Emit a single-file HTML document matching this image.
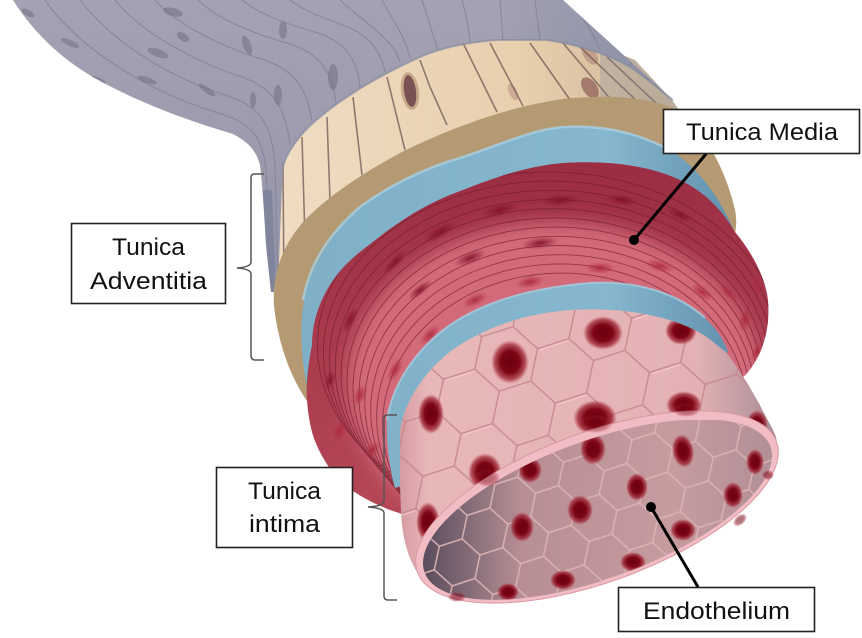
<!DOCTYPE html>
<html><head><meta charset="utf-8">
<style>
html,body{margin:0;padding:0;background:#fff;}
svg{display:block;}
text{font-family:"Liberation Sans",Arial,sans-serif;fill:#111;font-size:24px;}
</style></head><body>
<svg width="862" height="638" viewBox="0 0 862 638" xmlns="http://www.w3.org/2000/svg">
<defs>
  <linearGradient id="gGray" gradientUnits="userSpaceOnUse" x1="0" y1="0" x2="0" y2="290">
    <stop offset="0" stop-color="#a3a1b2"/>
    <stop offset="0.5" stop-color="#9d9bad"/>
    <stop offset="1" stop-color="#9394a9"/>
  </linearGradient>
  <linearGradient id="gGrayR" gradientUnits="userSpaceOnUse" x1="500" y1="0" x2="675" y2="0">
    <stop offset="0" stop-color="#6f7c98" stop-opacity="0"/>
    <stop offset="1" stop-color="#6f7c98" stop-opacity="0.45"/>
  </linearGradient>
  <linearGradient id="gTan" gradientUnits="userSpaceOnUse" x1="280" y1="0" x2="680" y2="0">
    <stop offset="0" stop-color="#efdcc2"/>
    <stop offset="0.6" stop-color="#e8cfae"/>
    <stop offset="1" stop-color="#cdb496"/>
  </linearGradient>
  <linearGradient id="gBlue" gradientUnits="userSpaceOnUse" x1="300" y1="0" x2="740" y2="0">
    <stop offset="0" stop-color="#7fb0c8"/>
    <stop offset="0.7" stop-color="#86b7ce"/>
    <stop offset="1" stop-color="#5f8fac"/>
  </linearGradient>
  <linearGradient id="gRed" gradientUnits="userSpaceOnUse" x1="0" y1="170" x2="0" y2="500">
    <stop offset="0" stop-color="#9c2e43"/>
    <stop offset="1" stop-color="#b54656"/>
  </linearGradient>
  <linearGradient id="gEndo" gradientUnits="userSpaceOnUse" x1="398" y1="0" x2="780" y2="0">
    <stop offset="0" stop-color="#d49aa0"/>
    <stop offset="0.08" stop-color="#e8b8b9"/>
    <stop offset="0.78" stop-color="#e4b2b4"/>
    <stop offset="1" stop-color="#a68c96"/>
  </linearGradient>
  <linearGradient id="gIn" gradientUnits="userSpaceOnUse" x1="420" y1="0" x2="780" y2="0">
    <stop offset="0" stop-color="#574a5c"/>
    <stop offset="0.12" stop-color="#7e6874"/>
    <stop offset="0.28" stop-color="#b78e94"/>
    <stop offset="0.7" stop-color="#c69c9f"/>
    <stop offset="1" stop-color="#b08e96"/>
  </linearGradient>
  <radialGradient id="nuc">
    <stop offset="0" stop-color="#6a000e"/>
    <stop offset="0.5" stop-color="#7d0516"/>
    <stop offset="0.8" stop-color="#9a1e2e" stop-opacity="0.7"/>
    <stop offset="1" stop-color="#b84050" stop-opacity="0"/>
  </radialGradient>
  <radialGradient id="rn">
    <stop offset="0" stop-color="#841228" stop-opacity="0.95"/>
    <stop offset="1" stop-color="#841228" stop-opacity="0"/>
  </radialGradient>
  <radialGradient id="rn2">
    <stop offset="0" stop-color="#ad2a42" stop-opacity="0.95"/>
    <stop offset="1" stop-color="#ad2a42" stop-opacity="0"/>
  </radialGradient>
  <pattern id="hexO" patternUnits="userSpaceOnUse" width="99" height="57.2" patternTransform="translate(410,330) rotate(-18)">
    <path d="M16.5,0 L49.5,0 L66,28.6 L49.5,57.2 L16.5,57.2 L0,28.6 Z M66,28.6 L99,28.6" fill="none" stroke="#c6878f" stroke-width="1.3"/>
    <path d="M18,2 L48,2" fill="none" stroke="#f4cccc" stroke-width="1"/>
  </pattern>
  <pattern id="hexI" patternUnits="userSpaceOnUse" width="72" height="41.6" patternTransform="translate(430,440) rotate(-18)">
    <path d="M12,0 L36,0 L48,20.8 L36,41.6 L12,41.6 L0,20.8 Z M48,20.8 L72,20.8" fill="none" stroke="#dcb4b6" stroke-width="1.4"/>
  </pattern>
  <filter id="speck" x="0" y="0" width="1" height="1">
    <feTurbulence type="fractalNoise" baseFrequency="0.9" numOctaves="2" seed="4" result="n"/>
    <feColorMatrix in="n" type="matrix" values="0 0 0 0 0.42  0 0 0 0 0.31  0 0 0 0 0.18  2.4 0 0 0 -1.05" result="c"/>
    <feComposite in="c" in2="SourceGraphic" operator="in"/>
  </filter>
  <filter id="blur6" x="-20%" y="-20%" width="140%" height="140%"><feGaussianBlur stdDeviation="9"/></filter>
  <clipPath id="cRed"><path d="M312,345 C312,310 330,275 360,252 C390,228 420,205 463,190 C500,175 530,166 563,163 C610,160 650,166 680,180 C705,192 722,210 735,232 C750,250 765,275 768,300 C770,325 765,345 755,362 C750,370 745,376 740,380 L720,420 L420,520 L390,510 C365,500 345,488 333,473 C322,458 314,442 311,428 C307,410 306,392 307,380 C308,368 310,355 312,345 Z"/></clipPath>
  <clipPath id="cGray"><path d="M13,0 L563,0 L673,100 C665,95 650,80 630,67 C610,55 580,45 547,40 L497,40 C470,42 450,46 430,53 C400,65 370,82 353,93 C330,108 315,120 303,133 C293,145 286,155 283,167 L281,210 L279,260 L277,292 L271,292 L266,245 C264,210 262,180 260,165 C256,150 248,142 233,134 C200,124 150,108 100,81 C65,62 35,35 13,0 Z"/></clipPath>
  <clipPath id="cTan"><path d="M277,300 L278,190 L283,160 L303,128 L353,88 L397,60 L430,45 L497,32 L547,32 L585,40 L635,60 L672,100 L700,140 L600,220 L320,330 Z"/></clipPath>
  <clipPath id="cEndo"><path d="M400,485 L400,430 C405,400 425,370 455,348 C490,325 525,315 560,311 C610,306 660,313 695,330 C710,338 720,348 726,352 C740,370 755,395 765,415 C772,428 777,436 776.5,441.7 A191 75 -20 0 1 622.7 577.5 A191 75 -20 0 1 417.5 572.3 C410,562 402,540 401,512 Z"/></clipPath>
  <clipPath id="cOpen"><ellipse cx="597.5" cy="509.5" rx="184" ry="69" transform="rotate(-20 597.5 509.5)"/></clipPath>
</defs>

<rect width="862" height="638" fill="#fff"/>

<!-- tan adventitia cells -->
<g clip-path="url(#cTan)">
  <rect x="260" y="30" width="450" height="310" fill="url(#gTan)"/>
  <g stroke="#6e5a55" stroke-width="1.6" fill="none" opacity="0.75">
    <path d="M283,165 L284,290"/><path d="M302,137 L305,240"/><path d="M327,117 L330,200"/>
    <path d="M353,97 L362,175"/><path d="M387,77 L405,150"/><path d="M420,60 L430,87 L447,125"/>
    <path d="M463,43 L497,112"/><path d="M490,43 L523,106"/><path d="M530,43 L573,104"/>
    <path d="M563,43 L613,102"/><path d="M580,47 L640,104"/><path d="M607,57 L657,104"/>
  </g>
  <ellipse cx="410" cy="91" rx="9" ry="19" transform="rotate(-8 410 91)" fill="#c9a88a"/>
  <ellipse cx="410" cy="91" rx="6" ry="16" transform="rotate(-8 410 91)" fill="#7a5254"/>
  <ellipse cx="590" cy="88" rx="7" ry="12" transform="rotate(-35 590 88)" fill="#8d5a55" opacity="0.7"/>
  <ellipse cx="590" cy="55" rx="6" ry="11" transform="rotate(-35 590 55)" fill="#8d5a55" opacity="0.35"/>
  <ellipse cx="513" cy="92" rx="4" ry="9" transform="rotate(-25 513 92)" fill="#8d5a55" opacity="0.3"/>
  <rect x="600" y="30" width="110" height="90" fill="#7d8aa0" opacity="0.25"/>
</g>

<!-- gray sheath -->
<g clip-path="url(#cGray)">
  <rect x="0" y="0" width="680" height="300" fill="url(#gGray)"/>
  <rect x="0" y="0" width="680" height="300" fill="url(#gGrayR)"/>
  <path d="M262,190 L272,190 L276,292 L266,292 Z" fill="#6d7890" opacity="0.55"/>
  <g stroke="#858398" stroke-width="1.2" fill="none" opacity="0.8">
    <path d="M45,0 C80,50 150,92 215,112 C245,121 262,130 266,170 L272,290"/>
    <path d="M80,0 C112,42 170,78 228,96 C258,106 272,122 275,165 L278,290"/>
    <path d="M115,0 C142,33 195,62 245,78 C275,90 286,110 290,145"/>
    <path d="M155,0 C178,26 225,48 265,60 C295,71 308,90 312,122"/>
    <path d="M198,0 C218,20 255,34 290,44 C318,53 332,70 336,103"/>
    <path d="M242,0 C260,15 290,25 318,33 C345,42 358,60 360,88"/>
    <path d="M290,0 C305,12 330,20 350,28 C372,38 382,55 385,72"/>
    <path d="M340,0 C355,15 380,30 395,50 L400,62"/>
    <path d="M382,0 C392,20 405,35 410,58"/>
    <path d="M422,0 Q430,25 438,50"/>
    <path d="M462,0 Q468,20 470,42"/>
    <path d="M500,0 L503,40"/><path d="M535,0 L540,40"/>
    <path d="M572,5 Q590,25 600,50"/><path d="M598,20 Q620,40 632,64"/><path d="M622,38 Q642,58 656,85"/>
  </g>
  <g fill="#756f84" opacity="0.55">
    <ellipse cx="173" cy="12" rx="10" ry="4" transform="rotate(15 173 12)"/>
    <ellipse cx="183" cy="37" rx="7" ry="4" transform="rotate(35 183 37)"/>
    <ellipse cx="158" cy="53" rx="11" ry="4" transform="rotate(20 158 53)"/>
    <ellipse cx="28" cy="13" rx="7" ry="3" transform="rotate(30 28 13)"/>
    <ellipse cx="70" cy="43" rx="10" ry="3" transform="rotate(25 70 43)"/>
    <ellipse cx="97" cy="80" rx="9" ry="3" transform="rotate(20 97 80)"/>
    <ellipse cx="147" cy="80" rx="10" ry="3" transform="rotate(20 147 80)"/>
    <ellipse cx="207" cy="90" rx="10" ry="3" transform="rotate(35 207 90)"/>
    <ellipse cx="247" cy="45" rx="4" ry="10" transform="rotate(-20 247 45)"/>
    <ellipse cx="253" cy="100" rx="3" ry="8"/>
    <ellipse cx="283" cy="30" rx="4" ry="9"/>
    <ellipse cx="333" cy="77" rx="5" ry="13"/>
    <ellipse cx="278" cy="95" rx="4" ry="10"/>
  </g>
</g>
<path d="M283,167 C286,155 293,145 303,133 C315,120 330,108 353,93 C370,82 400,65 430,53 C450,46 470,42 497,40 L547,40 C580,45 610,55 630,67 C650,80 665,95 673,100" fill="none" stroke="#7f87a0" stroke-width="2" opacity="0.6"/>

<!-- brown adventitia cut edge -->
<path d="M312,408 C292,382 278,345 274,305 C272,275 282,245 305,220 C330,195 360,175 400,153 C440,133 500,108 563,99 C610,94 655,97 680,112 C705,132 726,170 735,210 C738,225 735,238 730,245 L600,300 L330,400 Z" fill="#b69a72"/>
<path d="M312,408 C292,382 278,345 274,305 C272,275 282,245 305,220 C330,195 360,175 400,153 C440,133 500,108 563,99 C610,94 655,97 680,112 C705,132 726,170 735,210 C738,225 735,238 730,245 L600,300 L330,400 Z" fill="#000" filter="url(#speck)"/>

<!-- blue external elastic lamina -->
<path d="M308,392 C301,360 299,325 305,295 C312,265 330,235 360,207 C390,185 425,168 463,157 C500,145 530,130 563,127 C610,124 645,137 670,150 C695,165 720,195 737,238 L600,320 L330,400 Z" fill="url(#gBlue)"/>
<path d="M303,300 C310,262 330,233 360,207 C390,185 425,168 463,157 C500,145 530,130 563,127 C610,124 645,137 670,150" fill="none" stroke="#a9d0e2" stroke-width="2.5" opacity="0.8"/>

<!-- red media -->
<g clip-path="url(#cRed)">
  <rect x="300" y="150" width="480" height="380" fill="url(#gRed)"/>
  <ellipse cx="555" cy="384" rx="208" ry="162" fill="#d36b79" filter="url(#blur6)"/>
  <g fill="none" stroke="#6e1c2c" stroke-width="0.9" opacity="0.65">
    <ellipse cx="548.8" cy="345.4" rx="231.4" ry="173.5"/>
    <ellipse cx="550.0" cy="352.6" rx="226.6" ry="171.5"/>
    <ellipse cx="551.1" cy="359.8" rx="221.8" ry="169.5"/>
    <ellipse cx="552.2" cy="367.0" rx="217.0" ry="167.5"/>
    <ellipse cx="553.3" cy="374.2" rx="212.2" ry="165.5"/>
    <ellipse cx="554.4" cy="381.4" rx="207.4" ry="163.5"/>
    <ellipse cx="555.6" cy="388.6" rx="202.6" ry="161.5"/>
    <ellipse cx="556.7" cy="395.8" rx="197.8" ry="159.5"/>
    <ellipse cx="557.8" cy="403.0" rx="193.0" ry="157.5"/>
    <ellipse cx="558.9" cy="410.2" rx="188.2" ry="155.5"/>
    <ellipse cx="560.0" cy="417.4" rx="183.4" ry="153.5"/>
    <ellipse cx="561.2" cy="424.6" rx="178.6" ry="151.5"/>
  </g>
  <g>
    <ellipse cx="395" cy="262" rx="17" ry="5" transform="rotate(-45 395 262)" fill="url(#rn)"/>
    <ellipse cx="440" cy="232" rx="19" ry="6" transform="rotate(-30 440 232)" fill="url(#rn)"/>
    <ellipse cx="500" cy="210" rx="19" ry="6" transform="rotate(-15 500 210)" fill="url(#rn)"/>
    <ellipse cx="560" cy="200" rx="19" ry="6" transform="rotate(-5 560 200)" fill="url(#rn)"/>
    <ellipse cx="622" cy="200" rx="17" ry="6" transform="rotate(8 622 200)" fill="url(#rn)"/>
    <ellipse cx="680" cy="215" rx="15" ry="5" transform="rotate(25 680 215)" fill="url(#rn)"/>
    <ellipse cx="350" cy="320" rx="15" ry="5" transform="rotate(-65 350 320)" fill="url(#rn)"/>
    <ellipse cx="470" cy="258" rx="17" ry="6" transform="rotate(-22 470 258)" fill="url(#rn)"/>
    <ellipse cx="540" cy="243" rx="19" ry="6" transform="rotate(-8 540 243)" fill="url(#rn)"/>
    <ellipse cx="420" cy="290" rx="15" ry="5" transform="rotate(-40 420 290)" fill="url(#rn)"/>
    <ellipse cx="600" cy="268" rx="15" ry="6" fill="url(#rn2)"/>
    <ellipse cx="660" cy="266" rx="15" ry="6" transform="rotate(15 660 266)" fill="url(#rn2)"/>
    <ellipse cx="702" cy="292" rx="13" ry="6" transform="rotate(38 702 292)" fill="url(#rn2)"/>
    <ellipse cx="530" cy="282" rx="15" ry="6" transform="rotate(-10 530 282)" fill="url(#rn2)"/>
    <ellipse cx="475" cy="300" rx="14" ry="6" transform="rotate(-25 475 300)" fill="url(#rn2)"/>
    <ellipse cx="430" cy="335" rx="13" ry="6" transform="rotate(-45 430 335)" fill="url(#rn2)"/>
    <ellipse cx="395" cy="370" rx="13" ry="6" transform="rotate(-60 395 370)" fill="url(#rn2)"/>
    <ellipse cx="360" cy="395" rx="11" ry="6" transform="rotate(-70 360 395)" fill="url(#rn2)"/>
    <ellipse cx="340" cy="430" rx="11" ry="6" transform="rotate(-60 340 430)" fill="url(#rn2)"/>
    <ellipse cx="372" cy="450" rx="10" ry="6" transform="rotate(-50 372 450)" fill="url(#rn2)"/>
    <ellipse cx="330" cy="380" rx="10" ry="5" transform="rotate(-75 330 380)" fill="url(#rn)"/>
    <ellipse cx="745" cy="320" rx="6" ry="12" transform="rotate(10 745 320)" fill="url(#rn2)"/>
    <ellipse cx="757" cy="352" rx="5" ry="10" transform="rotate(20 757 352)" fill="url(#rn2)"/>
    <ellipse cx="728" cy="292" rx="11" ry="5" transform="rotate(45 728 292)" fill="url(#rn2)"/>
    <ellipse cx="757" cy="285" rx="6" ry="10" transform="rotate(-10 757 285)" fill="url(#rn2)"/>
  </g>
</g>

<!-- blue internal elastic lamina -->
<path d="M395,488 C390,470 386,445 387,420 C392,385 415,350 450,325 C490,298 540,287 590,283 C640,280 680,295 705,318 C716,328 724,340 728,352 L560,430 Z" fill="url(#gBlue)"/>
<path d="M387,420 C392,385 415,350 450,325 C490,298 540,287 590,283 C640,280 680,295 705,318" fill="none" stroke="#a6cde0" stroke-width="2" opacity="0.8"/>

<!-- endothelium tube outer surface -->
<g clip-path="url(#cEndo)">
  <rect x="395" y="300" width="390" height="300" fill="url(#gEndo)"/>
  <rect x="395" y="300" width="390" height="300" fill="url(#hexO)"/>
  <ellipse cx="510" cy="362" rx="19" ry="22" fill="url(#nuc)"/>
  <ellipse cx="603" cy="333" rx="20" ry="17" fill="url(#nuc)"/>
  <ellipse cx="681" cy="331" rx="16" ry="14" fill="url(#nuc)"/>
  <ellipse cx="431" cy="414" rx="13" ry="20" fill="url(#nuc)"/>
  <ellipse cx="595" cy="418" rx="22" ry="18" fill="url(#nuc)"/>
  <ellipse cx="684" cy="405" rx="18" ry="14" fill="url(#nuc)"/>
  <ellipse cx="485" cy="472" rx="17" ry="19" fill="url(#nuc)"/>
  <ellipse cx="428" cy="522" rx="12" ry="20" fill="url(#nuc)"/>
  <ellipse cx="757" cy="425" rx="11" ry="15" fill="url(#nuc)"/>
  <ellipse cx="716" cy="422" rx="13" ry="11" fill="url(#nuc)"/>
</g>

<!-- rim -->
<ellipse cx="597" cy="507" rx="191" ry="75" transform="rotate(-20 597 507)" fill="#f2bcc4" stroke="#d89aa2" stroke-width="1"/>

<!-- interior -->
<g clip-path="url(#cOpen)">
  <rect x="410" y="420" width="380" height="180" fill="url(#gIn)"/>
  <rect x="410" y="420" width="380" height="180" fill="url(#hexI)"/>
  <ellipse cx="593" cy="449" rx="13" ry="16" fill="url(#nuc)"/>
  <ellipse cx="530" cy="470" rx="12" ry="13" fill="url(#nuc)"/>
  <ellipse cx="683" cy="451" rx="11" ry="17" transform="rotate(-10 683 451)" fill="url(#nuc)"/>
  <ellipse cx="637" cy="487" rx="11" ry="14" fill="url(#nuc)"/>
  <ellipse cx="580" cy="510" rx="13" ry="15" fill="url(#nuc)"/>
  <ellipse cx="522" cy="527" rx="12" ry="15" fill="url(#nuc)"/>
  <ellipse cx="683" cy="530" rx="13" ry="11" fill="url(#nuc)"/>
  <ellipse cx="733" cy="495" rx="10" ry="13" fill="url(#nuc)"/>
  <ellipse cx="633" cy="562" rx="13" ry="10" fill="url(#nuc)"/>
  <ellipse cx="563" cy="580" rx="13" ry="10" fill="url(#nuc)"/>
  <ellipse cx="508" cy="592" rx="11" ry="9" fill="url(#nuc)"/>
  <ellipse cx="755" cy="462" rx="9" ry="13" fill="url(#nuc)"/>
</g>

<!-- nuclei showing through rim -->
<g opacity="0.45">
  <ellipse cx="595" cy="424" rx="18" ry="9" fill="url(#nuc)"/>
  <ellipse cx="487" cy="478" rx="13" ry="9" fill="url(#nuc)"/>
  <ellipse cx="686" cy="410" rx="14" ry="7" fill="url(#nuc)"/>
</g>
<g opacity="0.55">
  <ellipse cx="457" cy="597" rx="9" ry="5" fill="url(#nuc)"/>
  <ellipse cx="740" cy="520" rx="8" ry="5" transform="rotate(-40 740 520)" fill="url(#nuc)"/>
  <ellipse cx="768" cy="475" rx="6" ry="5" fill="url(#nuc)"/>
</g>

<!-- brackets -->
<g fill="none" stroke="#555" stroke-width="1.5">
  <path d="M264,174 L254,174 Q251,174 251,178 L251,262 Q251,267 237,268 Q251,269 251,274 L251,355 Q251,360 255,360 L264,360"/>
  <path d="M397,415 L387,415 Q384,415 384,419 L384,501 Q384,506 368,507 Q384,508 384,513 L384,596 Q384,600 388,600 L397,600"/>
</g>

<!-- leaders -->
<g stroke="#000" stroke-width="3" fill="none">
  <line x1="706" y1="154" x2="634" y2="240"/>
  <line x1="698" y1="587" x2="651" y2="507"/>
</g>
<circle cx="634" cy="240" r="5" fill="#000"/>
<circle cx="651" cy="507" r="5" fill="#000"/>

<!-- label boxes -->
<g fill="#fff" stroke="#222" stroke-width="1.6">
  <rect x="663.5" y="109.5" width="196" height="44"/>
  <rect x="71.5" y="223.5" width="154" height="80"/>
  <rect x="216.5" y="467.5" width="136" height="80"/>
  <rect x="618.5" y="587.5" width="196" height="44"/>
</g>
<text x="686" y="140" textLength="152" lengthAdjust="spacingAndGlyphs">Tunica Media</text>
<text x="112" y="255" textLength="73" lengthAdjust="spacingAndGlyphs">Tunica</text>
<text x="90" y="289" textLength="117" lengthAdjust="spacingAndGlyphs">Adventitia</text>
<text x="248" y="499" textLength="73" lengthAdjust="spacingAndGlyphs">Tunica</text>
<text x="249" y="532" textLength="71" lengthAdjust="spacingAndGlyphs">intima</text>
<text x="643" y="619" textLength="147" lengthAdjust="spacingAndGlyphs">Endothelium</text>
</svg>
</body></html>
